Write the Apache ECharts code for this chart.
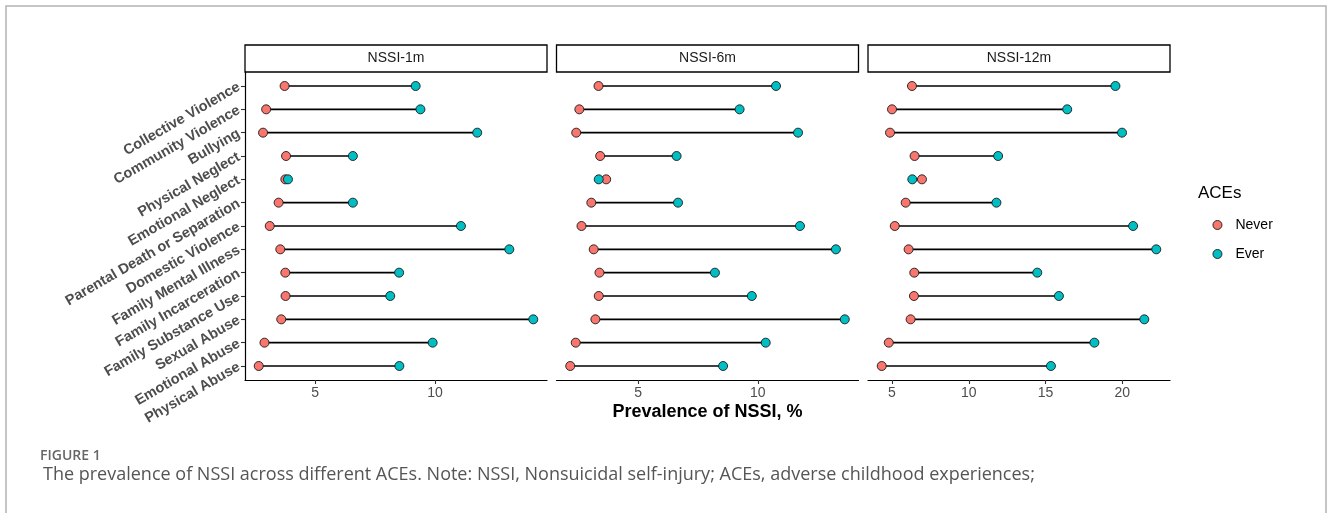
<!DOCTYPE html>
<html>
<head>
<meta charset="utf-8">
<script src="https://cdn.jsdelivr.net/npm/echarts@6/dist/echarts.min.js"></script>
<style>
  html, body { margin: 0; padding: 0; background: #fff; }
  #chart { width: 1330px; height: 513px; }
</style>
</head>
<body>
<div id="chart"></div>
<script>
var myChart = echarts.init(document.getElementById('chart'));

// rows, top to bottom
var categories = [
    'Collective Violence', 'Community Violence', 'Bullying', 'Physical Neglect',
    'Emotional Neglect', 'Parental Death or Separation', 'Domestic Violence',
    'Family Mental Illness', 'Family Incarceration', 'Family Substance Use',
    'Sexual Abuse', 'Emotional Abuse', 'Physical Abuse'
];

var panels = ['NSSI-1m', 'NSSI-6m', 'NSSI-12m'];

// prevalence of NSSI (%) by ACE exposure
var never1m = [3.72, 2.95, 2.82, 3.78, 3.75, 3.47, 3.10, 3.54, 3.75, 3.76, 3.58, 2.88, 2.64];
var ever1m = [9.19, 9.39, 11.76, 6.57, 3.86, 6.57, 11.08, 13.10, 8.50, 8.13, 14.10, 9.90, 8.51];
var never6m = [3.35, 2.55, 2.42, 3.42, 3.67, 3.05, 2.64, 3.15, 3.39, 3.36, 3.22, 2.40, 2.17];
var ever6m = [10.76, 9.24, 11.68, 6.61, 3.36, 6.67, 11.76, 13.26, 8.21, 9.75, 13.63, 10.33, 8.55];
var never12m = [6.30, 5.00, 4.87, 6.47, 6.95, 5.89, 5.18, 6.08, 6.45, 6.43, 6.21, 4.79, 4.33];
var ever12m = [19.55, 16.41, 19.98, 11.91, 6.32, 11.80, 20.70, 22.21, 14.46, 15.87, 21.43, 18.18, 15.35];

var xTicks = [[5, 10], [5, 10], [5, 10, 15, 20]];

var neverData = [never1m, never6m, never12m];
var everData = [ever1m, ever6m, ever12m];

var colorNever = '#F8766D';
var colorEver = '#00BFC4';
var plotFont = '"Liberation Sans", Arial, sans-serif';

var panelLeft = [245, 556.5, 868];
var panelWidth = 302;
var plotTop = 72;
var plotHeight = 308;

function extent(a, b) {
    var all = a.concat(b);
    var lo = Math.min.apply(null, all);
    var hi = Math.max.apply(null, all);
    var pad = (hi - lo) * 0.05;
    return [lo - pad, hi + pad];
}

function renderSegment(params, api) {
    var start = api.coord([api.value(0), api.value(2)]);
    var end = api.coord([api.value(1), api.value(2)]);
    return {
        type: 'line',
        shape: {x1: start[0], y1: start[1], x2: end[0], y2: end[1]},
        style: {stroke: '#000', lineWidth: 1.6}
    };
}

var rowIndex = categories.map(function (c, i) { return i; });

var grids = [], xAxes = [], yAxes = [], series = [], graphics = [];

panels.forEach(function (name, p) {
    var ext = extent(neverData[p], everData[p]);
    grids.push({
        left: panelLeft[p],
        top: plotTop,
        width: panelWidth,
        height: plotHeight,
        outerBoundsMode: 'none'
    });
    xAxes.push({
        type: 'value',
        gridIndex: p,
        position: 'bottom',
        min: ext[0],
        max: ext[1],
        splitLine: {show: false},
        axisLine: {show: true, onZero: false, lineStyle: {color: '#000', width: 1.2}},
        axisTick: {show: true, length: 4, customValues: xTicks[p], lineStyle: {color: '#333', width: 1.1}},
        axisLabel: {
            customValues: xTicks[p],
            margin: 6,
            color: '#4D4D4D',
            fontSize: 14,
            fontFamily: plotFont
        }
    });
    yAxes.push({
        type: 'value',
        gridIndex: p,
        inverse: true,
        min: -0.6,
        max: 12.6,
        show: p === 0,
        splitLine: {show: false},
        axisLine: {show: true, onZero: false, lineStyle: {color: '#000', width: 1.2}},
        axisTick: {show: true, length: 4, customValues: rowIndex, lineStyle: {color: '#333', width: 1.1}},
        axisLabel: {
            customValues: rowIndex,
            rotate: 30,
            margin: 6,
            color: '#4D4D4D',
            fontSize: 14.5,
            fontWeight: 'bold',
            fontFamily: plotFont,
            formatter: function (v) { return categories[Math.round(v)]; }
        }
    });

    series.push({
        type: 'custom',
        xAxisIndex: p,
        yAxisIndex: p,
        renderItem: renderSegment,
        encode: {x: [0, 1], y: 2},
        silent: true,
        data: neverData[p].map(function (v, i) { return [v, everData[p][i], i]; })
    });
    series.push({
        name: 'Never',
        type: 'scatter',
        xAxisIndex: p,
        yAxisIndex: p,
        symbol: 'circle',
        symbolSize: 9,
        itemStyle: {color: colorNever, borderColor: '#1a1a1a', borderWidth: 0.9, opacity: 1},
        data: neverData[p].map(function (v, i) { return [v, i]; })
    });
    series.push({
        name: 'Ever',
        type: 'scatter',
        xAxisIndex: p,
        yAxisIndex: p,
        symbol: 'circle',
        symbolSize: 9,
        itemStyle: {color: colorEver, borderColor: '#1a1a1a', borderWidth: 0.9, opacity: 1},
        data: everData[p].map(function (v, i) { return [v, i]; })
    });

    // facet strip
    graphics.push({
        type: 'rect',
        shape: {x: panelLeft[p], y: 45, width: panelWidth, height: 27},
        style: {fill: '#fff', stroke: '#000', lineWidth: 1.3}
    });
    graphics.push({
        type: 'text',
        x: panelLeft[p] + panelWidth / 2,
        y: 58.5,
        style: {
            text: name,
            fill: '#1A1A1A',
            font: '14px ' + plotFont,
            align: 'center',
            verticalAlign: 'middle'
        }
    });
});

// outer frame
graphics.push({
    type: 'rect',
    shape: {x: 6, y: 6, width: 1320, height: 600},
    style: {fill: 'none', stroke: '#b3b3b3', lineWidth: 1.5}
});

// x axis title
graphics.push({
    type: 'text',
    x: panelLeft[1] + panelWidth / 2,
    y: 412,
    style: {
        text: 'Prevalence of NSSI, %',
        fill: '#000',
        font: 'bold 18px ' + plotFont,
        align: 'center',
        verticalAlign: 'middle'
    }
});

// legend title
graphics.push({
    type: 'text',
    x: 1198,
    y: 193,
    style: {
        text: 'ACEs',
        fill: '#000',
        font: '17px ' + plotFont,
        align: 'left',
        verticalAlign: 'middle'
    }
});

// caption
graphics.push({
    type: 'text',
    x: 40,
    y: 456,
    style: {
        text: 'FIGURE 1',
        fill: '#666',
        font: '600 14px "Open Sans", sans-serif',
        align: 'left',
        verticalAlign: 'middle'
    }
});
graphics.push({
    type: 'text',
    x: 43,
    y: 475,
    style: {
        text: 'The prevalence of NSSI across different ACEs. Note: NSSI, Nonsuicidal self-injury; ACEs, adverse childhood experiences;',
        fill: '#555',
        font: '18px "Open Sans", sans-serif',
        align: 'left',
        verticalAlign: 'middle'
    }
});

myChart.setOption({
    backgroundColor: '#fff',
    animation: false,
    grid: grids,
    xAxis: xAxes,
    yAxis: yAxes,
    legend: {
        data: ['Never', 'Ever'],
        orient: 'vertical',
        left: 1207.5,
        top: 213,
        itemWidth: 9,
        itemHeight: 9,
        itemGap: 15,
        icon: 'circle',
        itemStyle: {borderColor: '#1a1a1a', borderWidth: 0.9},
        textStyle: {fontSize: 14, color: '#000', fontFamily: plotFont, padding: [0, 0, 0, 8.5]},
        selectedMode: false
    },
    graphic: graphics,
    series: series
});
</script>
</body>
</html>
